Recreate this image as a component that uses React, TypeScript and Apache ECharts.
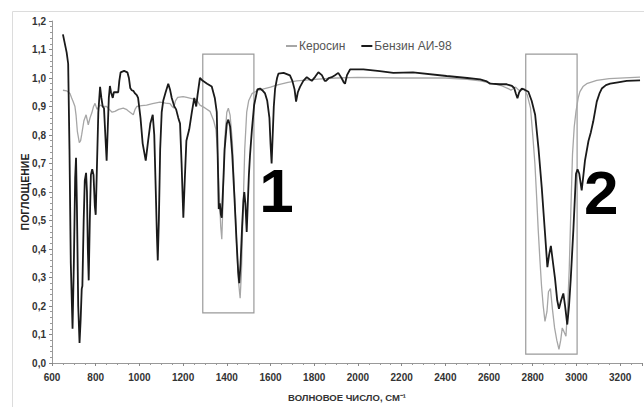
import React, { useEffect, useRef } from "react";
import * as echarts from "echarts";

// Бензин АИ-98 (black)
const benzinX = [
  650, 667, 674, 680, 686, 694, 700, 706, 710, 714, 720, 726, 731, 736, 739, 745, 750, 756, 760, 764,
  768, 773, 778, 784, 790, 796, 800, 806, 812, 820, 826, 832, 838, 844, 850, 855, 860, 865, 870, 878,
  883, 895, 903, 908, 914, 930, 945, 952, 958, 965, 972, 980, 988, 994, 1005, 1015, 1029, 1040, 1050, 1061,
  1068, 1075, 1080, 1084, 1089, 1095, 1102, 1109, 1120, 1132, 1140, 1148, 1160, 1168, 1178, 1186, 1193, 1201, 1208, 1215,
  1228, 1240, 1251, 1260, 1266, 1277, 1290, 1310, 1331, 1345, 1354, 1359, 1363, 1368, 1373, 1377, 1382, 1390, 1400, 1407,
  1415, 1425, 1435, 1445, 1452, 1457, 1463, 1470, 1476, 1480, 1485, 1491, 1496, 1501, 1506, 1515, 1525, 1540, 1552, 1565,
  1575, 1585, 1595, 1600, 1605, 1610, 1615, 1621, 1630, 1636, 1660, 1689, 1700, 1710, 1717, 1725, 1735, 1750, 1766, 1780,
  1789, 1805, 1819, 1835, 1848, 1854, 1867, 1880, 1895, 1910, 1925, 1935, 1941, 1950, 1964, 2000, 2025, 2100, 2162, 2252,
  2406, 2500, 2559, 2590, 2605, 2650, 2681, 2705, 2715, 2723, 2730, 2738, 2750, 2765, 2780, 2795, 2811, 2826, 2841, 2856,
  2867, 2875, 2883, 2893, 2902, 2912, 2920, 2930, 2940, 2948, 2958, 2966, 2974, 2986, 2998, 3005, 3013, 3024, 3032, 3039,
  3055, 3066, 3077, 3093, 3105, 3116, 3135, 3154, 3190, 3230, 3291,
];
const benzinY = [
  1.153, 1.09, 1.05, 0.75, 0.35, 0.12, 0.35, 0.65, 0.72, 0.55, 0.2, 0.07, 0.15, 0.26, 0.27, 0.5, 0.64, 0.667, 0.6, 0.4,
  0.29, 0.5, 0.66, 0.68, 0.66, 0.55, 0.52, 0.7, 0.88, 0.969, 0.93, 0.9, 0.894, 0.8, 0.71, 0.82, 0.93, 0.972, 0.95, 0.93,
  0.95, 0.95, 0.95, 0.99, 1.02, 1.025, 1.02, 1.0, 0.965, 0.957, 0.955, 0.946, 0.94, 0.93, 0.86, 0.77, 0.71, 0.78, 0.84, 0.871,
  0.8, 0.6, 0.45, 0.36, 0.5, 0.75, 0.88, 0.92, 0.95, 0.98, 0.96, 0.93, 0.9, 0.89, 0.86, 0.84, 0.7, 0.51, 0.65, 0.78,
  0.82, 0.88, 0.93, 0.9, 0.94, 1.0, 0.99, 0.98, 0.97, 0.93, 0.88, 0.7, 0.54, 0.56, 0.52, 0.51, 0.6, 0.75, 0.84, 0.854,
  0.83, 0.73, 0.58, 0.42, 0.32, 0.28, 0.35, 0.48, 0.57, 0.6, 0.56, 0.46, 0.56, 0.66, 0.727, 0.82, 0.905, 0.96, 0.963, 0.955,
  0.946, 0.92, 0.86, 0.77, 0.7, 0.8, 0.9, 0.963, 1.0, 1.015, 1.018, 1.009, 0.99, 0.96, 0.917, 0.95, 0.969, 0.99, 1.003, 0.995,
  0.99, 1.005, 1.02, 1.01, 0.99, 0.99, 1.0, 1.003, 1.01, 1.018, 1.0, 0.985, 0.98, 1.01, 1.03, 1.03, 1.03, 1.024, 1.018, 1.02,
  1.007, 1.0, 0.995, 0.988, 0.98, 0.978, 0.978, 0.972, 0.965, 0.945, 0.929, 0.95, 0.963, 0.958, 0.952, 0.92, 0.871, 0.756, 0.618, 0.457,
  0.336, 0.38, 0.411, 0.35, 0.296, 0.22, 0.19, 0.22, 0.244, 0.2, 0.135, 0.2, 0.296, 0.468, 0.664, 0.68, 0.664, 0.606, 0.66, 0.71,
  0.779, 0.81, 0.848, 0.917, 0.945, 0.963, 0.975, 0.98, 0.985, 0.99, 0.992,
];

// Керосин (gray)
const keroX = [
  650, 667, 682, 690, 697, 705, 710, 716, 725, 731, 736, 746, 756, 762, 766, 774, 782, 790, 797, 806,
  820, 835, 850, 862, 875, 888, 905, 926, 940, 948, 960, 972, 980, 988, 1010, 1033, 1060, 1094, 1120, 1140,
  1150, 1157, 1165, 1175, 1200, 1217, 1240, 1262, 1277, 1300, 1323, 1340, 1350, 1357, 1365, 1372, 1377, 1382, 1390, 1400,
  1407, 1415, 1425, 1435, 1445, 1453, 1461, 1467, 1475, 1482, 1491, 1500, 1515, 1537, 1560, 1600, 1628, 1680, 1720, 1800,
  1900, 2000, 2200, 2400, 2500, 2560, 2620, 2660, 2690, 2700, 2712, 2722, 2735, 2745, 2760, 2775, 2790, 2800, 2810, 2818,
  2825, 2833, 2840, 2848, 2856, 2865, 2872, 2881, 2890, 2900, 2910, 2920, 2928, 2935, 2943, 2952, 2960, 2967, 2975, 2982,
  2990, 2998, 3008, 3016, 3030, 3047, 3093, 3150, 3291,
];
const keroY = [
  0.957, 0.955, 0.946, 0.93, 0.917, 0.9, 0.87, 0.813, 0.773, 0.78, 0.802, 0.85, 0.871, 0.85, 0.836, 0.86, 0.877, 0.9, 0.911, 0.89,
  0.905, 0.9, 0.9, 0.89, 0.88, 0.883, 0.89, 0.894, 0.89, 0.885, 0.878, 0.871, 0.89, 0.9, 0.903, 0.905, 0.91, 0.915, 0.912, 0.91,
  0.9, 0.895, 0.92, 0.932, 0.935, 0.932, 0.928, 0.923, 0.905, 0.895, 0.883, 0.85, 0.82, 0.75, 0.6, 0.48, 0.434, 0.55, 0.78, 0.88,
  0.894, 0.87, 0.78, 0.6, 0.42, 0.29, 0.227, 0.32, 0.55, 0.75, 0.88, 0.92, 0.945, 0.955, 0.96, 0.968, 0.975, 0.985, 0.99, 0.995,
  1.0, 1.002, 1.0, 1.0, 0.995, 0.99, 0.98, 0.972, 0.962, 0.957, 0.963, 0.968, 0.958, 0.955, 0.963, 0.94, 0.894, 0.8, 0.698, 0.58,
  0.468, 0.36, 0.273, 0.2, 0.146, 0.18, 0.25, 0.261, 0.19, 0.123, 0.08, 0.048, 0.08, 0.123, 0.11, 0.094, 0.2, 0.33, 0.55, 0.733,
  0.83, 0.883, 0.93, 0.952, 0.97, 0.98, 0.992, 0.998, 1.003,
];

const seriesNames = ["Керосин", "Бензин АИ-98"];
const boxes = [
  { x0: 1290, x1: 1524, y0: 0.176, y1: 1.084, label: "1", lx: 1627, ly: 0.604 },
  { x0: 2768, x1: 3003, y0: 0.031, y1: 1.084, label: "2", lx: 3113, ly: 0.6 },
];
const xTitle = "ВОЛНОВОЕ ЧИСЛО, СМ⁻¹";
const yTitle = "ПОГЛОЩЕНИЕ";

const FONT = "'Liberation Sans', Arial, sans-serif";

export default function App() {
  const ref = useRef<HTMLDivElement>(null);
  useEffect(() => {
    if (!ref.current) return;
    const chart = echarts.init(ref.current, null, { renderer: "svg" });
    const benzin = benzinX.map((x, i) => [x, benzinY[i]]);
    const kero = keroX.map((x, i) => [x, keroY[i]]);
    chart.setOption({
      animation: false,
      backgroundColor: "#fff",
      grid: { left: 52, top: 21, right: 2, bottom: 38, containLabel: false },
      legend: {
        data: seriesNames,
        left: 281,
        top: 35,
        icon: "rect",
        itemWidth: 11,
        itemHeight: 2,
        itemGap: 16,
        textStyle: { fontSize: 12, color: "#555", fontFamily: FONT, padding: [0, 0, 0, -3] },
      },
      graphic: [
        {
          type: "rect",
          shape: { x: 12.5, y: 11.5, width: 640, height: 400 },
          style: { fill: "none", stroke: "#dcdcdc", lineWidth: 1 },
          silent: true,
          z: -1,
        },
      ],
      xAxis: {
        type: "value",
        min: 600,
        max: 3300,
        interval: 200,
        name: xTitle,
        nameLocation: "middle",
        nameGap: 29,
        nameMoveOverlap: false,
        nameTextStyle: { fontSize: 9.5, fontWeight: "bold", color: "#333", fontFamily: FONT },
        axisLine: { lineStyle: { color: "#999", width: 1 } },
        axisTick: { show: true, length: 3, lineStyle: { color: "#888" } },
        minorTick: { show: true, splitNumber: 4, length: 2, lineStyle: { color: "#999" } },
        splitLine: { show: false },
        axisLabel: {
          showMaxLabel: false,
          fontSize: 10,
          fontWeight: "bold",
          color: "#333",
          fontFamily: FONT,
          margin: 9,
          formatter: (v: number) => String(v),
        },
      },
      yAxis: {
        type: "value",
        min: 0,
        max: 1.2,
        interval: 0.1,
        name: yTitle,
        nameLocation: "middle",
        nameGap: 22,
        nameMoveOverlap: false,
        nameTextStyle: { fontSize: 10.5, fontWeight: "bold", color: "#222", fontFamily: FONT },
        axisLine: { show: true, lineStyle: { color: "#999", width: 1 } },
        axisTick: { show: true, length: 3, lineStyle: { color: "#888" } },
        minorTick: { show: true, splitNumber: 5, length: 2, lineStyle: { color: "#999" } },
        splitLine: { show: false },
        axisLabel: {
          fontSize: 10,
          fontWeight: "bold",
          color: "#333",
          fontFamily: FONT,
          margin: 6,
          formatter: (v: number) => v.toFixed(1).replace(".", ","),
        },
      },
      series: [
        {
          name: seriesNames[0],
          type: "line",
          data: kero,
          showSymbol: false,
          symbol: "none",
          color: "#a6a6a6",
          lineStyle: { color: "#a6a6a6", width: 1.3 },
          z: 2,
        },
        {
          name: seriesNames[1],
          type: "line",
          data: benzin,
          showSymbol: false,
          symbol: "none",
          color: "#1a1a1a",
          lineStyle: { color: "#1a1a1a", width: 1.8 },
          z: 3,
          markArea: {
            silent: true,
            itemStyle: { color: "rgba(0,0,0,0)", borderColor: "#9a9a9a", borderWidth: 1.2 },
            data: boxes.map((b) => [
              { xAxis: b.x0, yAxis: b.y0 },
              { xAxis: b.x1, yAxis: b.y1 },
            ]),
          },
          markPoint: {
            silent: true,
            symbol: "circle",
            symbolSize: 1,
            itemStyle: { color: "rgba(0,0,0,0)" },
            label: {
              show: true,
              position: "inside",
              formatter: (p: any) => p.name,
              fontSize: 62,
              fontWeight: "bold",
              color: "#000",
              fontFamily: FONT,
            },
            data: boxes.map((b) => ({ name: b.label, coord: [b.lx, b.ly] })),
          },
        },
      ],
    });
    return () => chart.dispose();
  }, []);
  return (
    <div
      ref={ref}
      style={{ position: "absolute", left: 0, top: 0, width: 644, height: 407 }}
    />
  );
}
